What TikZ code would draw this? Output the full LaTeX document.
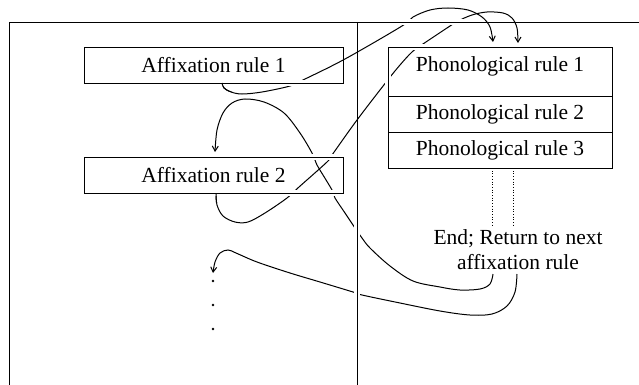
\documentclass[tikz,border=0pt]{standalone}
\usepackage{fontspec}
\setmainfont{Liberation Serif}
\usetikzlibrary{arrows.meta}
\pgfdeclarelayer{fg}
\pgfdeclarelayer{top}
\pgfsetlayers{main,fg,top}
\begin{document}
\begin{tikzpicture}[x=1pt,y=-1pt,line width=1pt,
  haloline/.style={draw=white,line width=6pt},
  rulebox/.style={draw,inner sep=0pt,font=\fontsize{21.5}{25}\selectfont},
  lbl/.style={font=\fontsize{21.5}{25}\selectfont,align=center},
  curve/.style={line width=1pt},
  tip/.style={-{Straight Barb[length=5pt,width=6pt,line width=1pt]}},
  dotmark/.style={circle,fill,inner sep=0pt,minimum size=2.6pt},
  dots/.style={dotted,line width=0.7pt}]
\useasboundingbox (0,0) rectangle (639,385);

\begin{pgfonlayer}{fg}
% white gaps where the curves pass under lines
\draw[haloline] (380,22) -- (470,22);
\draw[haloline] (357,200) -- (357,320);
\draw[haloline] (388,47) rectangle (612,168);
\draw[haloline] (84,83) -- (343,83);
\draw[haloline] (84,157) rectangle (343,193);
% frame
\draw (9,385) -- (9,22) -- (639,22);
\draw (357,22) -- (357,385);
% boxes
\node[rulebox,minimum width=259pt,minimum height=36pt] (a1) at (213.5,65) {Affixation rule 1};
\node[rulebox,minimum width=259pt,minimum height=36pt] (a2) at (213.5,175) {Affixation rule 2};
\node[rulebox,minimum width=224pt,minimum height=49pt,text height=15pt,text depth=15pt] (p1) at (500,71.5) {Phonological rule 1};
\node[rulebox,minimum width=224pt,minimum height=36pt] (p2) at (500,114) {Phonological rule 2};
\node[rulebox,minimum width=224pt,minimum height=36pt] (p3) at (500,150) {Phonological rule 3};
\node[lbl] (end) at (518,250) {End; Return to next\\affixation rule};
\node[dotmark] (v1) at (213,281) {};
\node[dotmark] (v2) at (213,305) {};
\node[dotmark] (v3) at (213,329) {};
\end{pgfonlayer}

\coordinate (d1t) at (492,168);
\coordinate (d1b) at (492,225);
\coordinate (d2t) at (513,168);
\coordinate (d2b) at (513,225);
\draw[dots] (d1t) -- (d1b);
\draw[dots] (d2t) -- (d2b);

\def\curveA{plot[smooth,tension=0.55] coordinates {(222,83) (224,88) (231,92) (242,94) (262,92) (290,86) (303,80) (345,59) (402,26) (413,17) (430,10) (448,8) (468,10) (482,17) (490,27) (493,42)}}
\def\curveB{plot[smooth,tension=0.55] coordinates {(216,193) (217,205) (223,216) (235,222) (248,222) (265,213) (287,198) (299,187) (327,162) (332,155) (357,120) (387,81) (400,65) (412,52) (423,44) (450,26) (458,21) (472,15) (487,12) (503,13) (512,18) (517,28) (518,43)}}
\def\curveC{plot[smooth,tension=0.55] coordinates {(493,274) (490,284) (480,289) (460,290) (440,287) (413,281) (390,266) (370,248) (362,238) (355,228) (345,213) (335,198) (332,190) (323,175) (317,165) (312,153) (300,133) (284,113) (264,102) (245,99) (232,103) (223,113) (217,130) (215,152)}}
\def\curveD{plot[smooth,tension=0.55] coordinates {(517,274) (515,292) (507,306) (492,314) (470,315) (440,311) (400,303) (362,295) (353,292) (320,282) (290,273) (257,262) (236,253) (228,250) (220,253) (215,262) (213,273)}}

\draw[curve,tip] \curveA;
\draw[curve,tip] \curveB;
\draw[curve,tip] \curveC;
\draw[curve,tip] \curveD;

\begin{pgfonlayer}{top}
\begin{scope}
\clip (205,83) rectangle (235,92);
\draw[curve] \curveA;
\end{scope}
\begin{scope}
\clip (205,193) rectangle (230,202);
\draw[curve] \curveB;
\end{scope}
\end{pgfonlayer}
\end{tikzpicture}
\end{document}
